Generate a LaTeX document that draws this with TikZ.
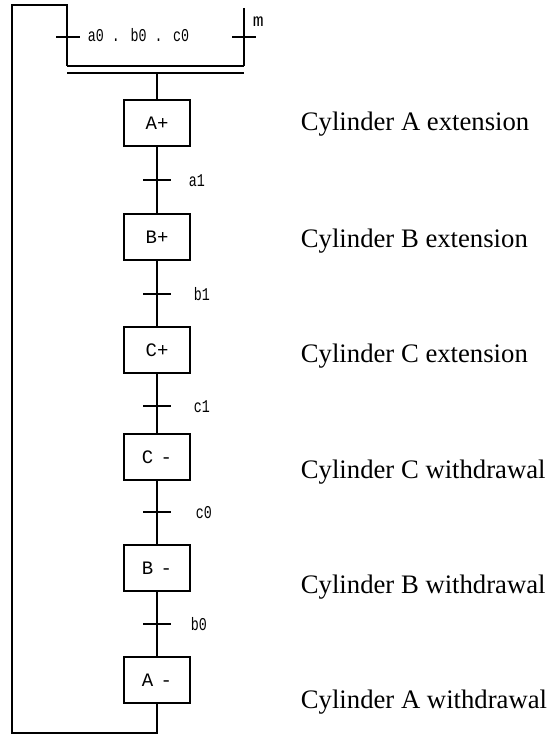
\documentclass[tikz,border=0pt]{standalone}
\usepackage{fontspec}
\setmainfont{Liberation Serif}
\newfontfamily\monof{Liberation Mono}
\newfontfamily\narrowmono[FakeStretch=0.74]{Liberation Mono}
\begin{document}
\begin{tikzpicture}[x=1pt,y=-1pt,
  line width=1.8pt,
  stepbox/.style={draw,minimum width=66pt,minimum height=46pt,inner sep=0pt,font=\monof\fontsize{19}{19}\selectfont},
  tlabel/.style={anchor=base west,inner sep=0pt,font=\narrowmono\fontsize{18}{18}\selectfont},
  desc/.style={anchor=base west,inner sep=0pt,font=\fontsize{26.7}{28}\selectfont},
  tick/.style={line width=1.8pt}]
\useasboundingbox (0,0) rectangle (548,738);
% steps
\node[stepbox] (A1) at (157,123) {A+};
\node[stepbox] (B1) at (157,237) {B+};
\node[stepbox] (C1) at (157,350) {C+};
\node[stepbox] (C0) at (157,457) {C\kern-4pt{} -};
\node[stepbox] (B0) at (157,568) {B\kern-4pt{} -};
\node[stepbox] (A0) at (157,680) {A\kern-4pt{} -};
% descriptions
\node[desc] (dA1) at (300,131) {Cylinder A extension};
\node[desc] (dB1) at (300,247) {Cylinder B extension};
\node[desc] (dC1) at (300,362) {Cylinder C extension};
\node[desc] (dC0) at (300,478) {Cylinder C withdrawal};
\node[desc] (dB0) at (300,593) {Cylinder B withdrawal};
\node[desc] (dA0) at (300,708) {Cylinder A withdrawal};
% connectors between steps
\draw (A1.south) -- (B1.north);
\draw (B1.south) -- (C1.north);
\draw (C1.south) -- (C0.north);
\draw (C0.south) -- (B0.north);
\draw (B0.south) -- (A0.north);
% transitions
\coordinate (ta1) at (157,180);
\coordinate (tb1) at (157,294);
\coordinate (tc1) at (157,406);
\coordinate (tc0) at (157,512);
\coordinate (tb0) at (157,624);
\foreach \t in {ta1,tb1,tc1,tc0,tb0}{\draw[tick] ([xshift=-14pt]\t) -- ([xshift=14pt]\t);}
\node[tlabel] (la1) at (188,186) {a1};
\node[tlabel] (lb1) at (193,300) {b1};
\node[tlabel] (lc1) at (193,412) {c1};
\node[tlabel] (lc0) at (195,518) {c0};
\node[tlabel] (lb0) at (190,630) {b0};
% double bar
\coordinate (barL) at (67,66);
\coordinate (barR) at (244,66);
\draw (67,66) -- (244,66);
\draw (67,73) -- (244,73);
\coordinate (barmid) at (157,73);
\draw (barmid) -- (A1.north);
% left branch with loop
\coordinate (loopTL) at (12,5);
\coordinate (loopTR) at (67,5);
\coordinate (bot) at (157,733);
\coordinate (botL) at (12,733);
\draw (A0.south) -- (bot) -- (botL) -- (loopTL) -- (loopTR) -- (barL);
\draw (56,37) -- (80,37);
\node[tlabel] (lab) at (87,42) {a0 . b0 . c0};
% right branch
\coordinate (mtop) at (244,8);
\draw (mtop) -- (barR);
\draw (232,37) -- (256,37);
\node[tlabel,font=\monof\fontsize{18}{18}\selectfont] (lm) at (252,27) {m};
\end{tikzpicture}
\end{document}
